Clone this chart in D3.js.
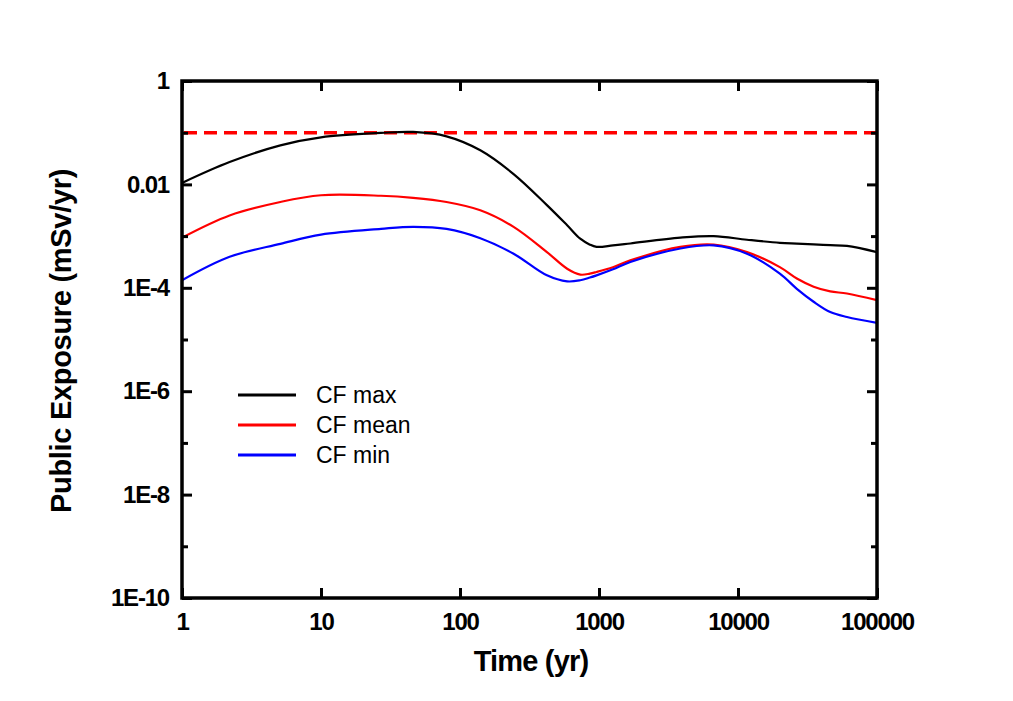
<!DOCTYPE html>
<html>
<head>
<meta charset="utf-8">
<script src="https://cdn.jsdelivr.net/npm/d3@7"></script>
<style>
  body { margin: 0; background: #fff; }
  text { font-family: "Liberation Sans", Arial, sans-serif; }
</style>
</head>
<body>
<svg id="chart" width="1013" height="701"></svg>
<script>
// ---- data ----
const times = [1, 2.2, 5.1, 10, 27, 46, 80, 140, 243, 422, 590, 733, 860, 960, 1260, 1680, 3850, 6680, 11600, 20000, 26500, 35000, 46100, 60800, 100000];
const cfMax = [0.0107, 0.0271, 0.0570, 0.0813, 0.0989, 0.1033, 0.0851, 0.0457, 0.01585, 0.00398, 0.00162, 8.9e-4, 6.84e-4, 6.2e-4, 6.6e-4, 7.2e-4, 9.33e-4, 1.0e-3, 8.51e-4, 7.41e-4, 7.16e-4, 6.92e-4, 6.68e-4, 6.46e-4, 4.9e-4];
const cfMean = [9.33e-4, 2.51e-3, 4.57e-3, 6.17e-3, 6.03e-3, 5.50e-3, 4.57e-3, 3.16e-3, 1.51e-3, 4.90e-4, 2.34e-4, 1.80e-4, 1.88e-4, 2.02e-4, 2.50e-4, 3.39e-4, 6.17e-4, 6.84e-4, 4.90e-4, 2.51e-4, 1.51e-4, 1.05e-4, 8.51e-5, 7.76e-5, 5.75e-5];
const cfMin = [1.40e-4, 3.98e-4, 7.08e-4, 1.07e-3, 1.38e-3, 1.51e-3, 1.38e-3, 9.12e-4, 4.57e-4, 1.74e-4, 1.33e-4, 1.40e-4, 1.58e-4, 1.74e-4, 2.28e-4, 3.16e-4, 5.75e-4, 6.61e-4, 4.57e-4, 1.88e-4, 9.55e-5, 5.37e-5, 3.39e-5, 2.72e-5, 2.09e-5];
const limitValue = 0.1;
const xTicks = [1, 10, 100, 1000, 10000, 100000];
const xTickLabels = ["1", "10", "100", "1000", "10000", "100000"];
const yMajorTicks = [1, 1e-2, 1e-4, 1e-6, 1e-8, 1e-10];
const yTickLabels = ["1", "0.01", "1E-4", "1E-6", "1E-8", "1E-10"];
const yMinorTicks = [1e-1, 1e-3, 1e-5, 1e-7, 1e-9];
const seriesNames = ["CF max", "CF mean", "CF min"];
const seriesColors = ["#000000", "#ff0000", "#0000ff"];

// ---- layout ----
const L = 182, R = 877, T = 81, B = 598;
const svg = d3.select("#chart");
const x = d3.scaleLog().domain([1, 100000]).range([L, R]);
const y = d3.scaleLog().domain([1e-10, 1]).range([B, T]);

const series = [cfMax, cfMean, cfMin];

svg.append("clipPath").attr("id", "clip").append("rect")
  .attr("x", L).attr("y", T).attr("width", R - L).attr("height", B - T);

// limit line
svg.append("line")
  .attr("x1", x(1) + 2).attr("x2", x(100000))
  .attr("y1", y(limitValue)).attr("y2", y(limitValue))
  .attr("stroke", "#ff0000").attr("stroke-width", 3.5)
  .attr("stroke-dasharray", "13,7");

// curves
const line = d3.line().x((d, i) => x(times[i])).y(d => y(d)).curve(d3.curveCatmullRom.alpha(0.5));
series.forEach((s, k) => {
  svg.append("path").datum(s)
    .attr("d", line)
    .attr("fill", "none")
    .attr("stroke", seriesColors[k])
    .attr("stroke-width", 2.2)
    .attr("clip-path", "url(#clip)");
});

// axes with inward ticks
const axisW = 3.5;
const bottomAxis = d3.axisBottom(x).tickValues(xTicks).tickSize(-10).tickFormat((d, i) => xTickLabels[i]).tickPadding(15);
const topAxis = d3.axisTop(x).tickValues(xTicks).tickSize(-10).tickFormat("");
const leftMajor = d3.axisLeft(y).tickValues(yMajorTicks).tickSize(-10).tickFormat((d, i) => yTickLabels[i]).tickPadding(13);
const leftMinor = d3.axisLeft(y).tickValues(yMinorTicks).tickSize(-6).tickFormat("");
const rightMajor = d3.axisRight(y).tickValues(yMajorTicks).tickSize(-10).tickFormat("");
const rightMinor = d3.axisRight(y).tickValues(yMinorTicks).tickSize(-6).tickFormat("");

function styleAxis(g) {
  g.select(".domain").remove();
  g.selectAll(".tick line").attr("stroke", "#000").attr("stroke-width", 3);
  g.selectAll(".tick text")
    .attr("fill", "#000")
    .style("font-size", "24px")
    .style("font-weight", "bold")
    .style("letter-spacing", "-1.2px")
    .style("font-family", '"Liberation Sans", Arial, sans-serif');
}
svg.append("g").attr("transform", `translate(0,${B})`).call(bottomAxis).call(styleAxis);
svg.append("g").attr("transform", `translate(0,${T})`).call(topAxis).call(styleAxis);
svg.append("g").attr("transform", `translate(${L},0)`).call(leftMajor).call(styleAxis);
svg.append("g").attr("transform", `translate(${L},0)`).call(leftMinor).call(styleAxis);
svg.append("g").attr("transform", `translate(${R},0)`).call(rightMajor).call(styleAxis);
svg.append("g").attr("transform", `translate(${R},0)`).call(rightMinor).call(styleAxis);

// frame
svg.append("rect").attr("x", L).attr("y", T).attr("width", R - L).attr("height", B - T)
  .attr("fill", "none").attr("stroke", "#000").attr("stroke-width", axisW);

// axis titles
svg.append("text")
  .attr("x", 531).attr("y", 671)
  .attr("text-anchor", "middle")
  .style("font-size", "29px").style("font-weight", "bold")
  .style("letter-spacing", "-0.8px")
  .text("Time (yr)");
svg.append("text")
  .attr("transform", `translate(71,${341}) rotate(-90)`)
  .attr("text-anchor", "middle")
  .style("font-size", "29px").style("font-weight", "bold")
  .style("letter-spacing", "-0.3px")
  .text("Public Exposure (mSv/yr)");

// legend
const legY = [395, 425, 455];
seriesNames.forEach((n, k) => {
  svg.append("line")
    .attr("x1", 238).attr("x2", 296).attr("y1", legY[k]).attr("y2", legY[k])
    .attr("stroke", seriesColors[k]).attr("stroke-width", 3);
  svg.append("text")
    .attr("x", 316).attr("y", legY[k] + 8)
    .style("font-size", "23px")
    .text(n);
});
</script>
</body>
</html>
